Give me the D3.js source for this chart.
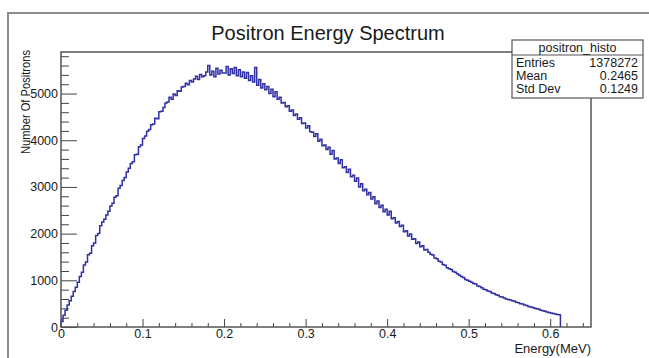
<!DOCTYPE html>
<html>
<head>
<meta charset="utf-8">
<script src="https://cdn.jsdelivr.net/npm/d3@7"></script>
<style>
  body { margin: 0; background: #fff; }
  text { font-family: "Liberation Sans", Arial, sans-serif; fill: #1a1a1a; }
</style>
</head>
<body>
<svg id="render" width="649" height="358"></svg>
<script>
// histogram: bin width 0.0025 MeV starting at 0, counts
let binWidth = 0.0025;
let counts = [
  120, 250, 360, 470, 560, 660, 760, 850, 960, 1080,
  1170, 1330, 1390, 1550, 1580, 1740, 1800, 1960, 2000, 2170,
  2250, 2310, 2400, 2480, 2590, 2650, 2780, 2810, 2970, 3030,
  3140, 3200, 3320, 3400, 3500, 3540, 3690, 3700, 3860, 3900,
  4040, 4090, 4190, 4230, 4330, 4350, 4470, 4460, 4610, 4620,
  4700, 4800, 4820, 4920, 4880, 4990, 4960, 5060, 5050, 5140,
  5150, 5220, 5190, 5280, 5250, 5310, 5370, 5300, 5410, 5360,
  5380, 5460, 5600, 5400, 5480, 5360, 5540, 5420, 5500, 5440,
  5440, 5580, 5400, 5530, 5430, 5560, 5380, 5510, 5360, 5460,
  5330, 5450, 5280, 5380, 5250, 5560, 5180, 5300, 5120, 5210,
  5080, 5150, 5000, 5090, 4930, 5040, 4880, 4920, 4800, 4810,
  4720, 4740, 4620, 4650, 4530, 4560, 4450, 4480, 4360, 4370,
  4260, 4310, 4180, 4170, 4080, 4140, 3980, 4020, 3880, 3900,
  3800, 3850, 3700, 3780, 3600, 3620, 3500, 3580, 3410, 3430,
  3310, 3380, 3220, 3250, 3120, 3190, 3000, 3070, 2920, 2950,
  2830, 2880, 2740, 2790, 2640, 2700, 2560, 2610, 2470, 2520,
  2400, 2480, 2320, 2340, 2230, 2260, 2150, 2180, 2040, 2060,
  1950, 1990, 1880, 1890, 1790, 1820, 1720, 1740, 1650, 1660,
  1600, 1560, 1540, 1480, 1460, 1410, 1390, 1340, 1320, 1270,
  1250, 1230, 1190, 1170, 1140, 1110, 1080, 1060, 1020, 1000,
  980, 960, 930, 920, 880, 870, 840, 810, 800, 770,
  760, 730, 720, 690, 680, 650, 640, 620, 600, 590,
  580, 560, 550, 530, 520, 500, 490, 470, 460, 440,
  430, 420, 400, 390, 380, 360, 350, 340, 320, 310,
  300, 290, 280, 270, 260
];

let xMajor = [0, 0.1, 0.2, 0.3, 0.4, 0.5, 0.6];
let yMajor = [0, 1000, 2000, 3000, 4000, 5000];

let statLabels = ['Entries', 'Mean', 'Std Dev'];
let statValues = ['1378272', '0.2465', '0.1249'];

let svg = d3.select('#render');

let frame = {'left': 61, 'top': 52, 'right': 591, 'bottom': 327};

let x = d3.scaleLinear().domain([0, 0.65]).range([frame.left, frame.right]);
let y = d3.scaleLinear().domain([0, 5890]).range([frame.bottom, frame.top]);

// canvas border (only top and left visible)
svg.append('path')
  .attr('d', 'M8,358V13H649')
  .style('fill', 'none')
  .style('stroke', '#8c8c8c')
  .style('stroke-width', 2);

// title
svg.append('text')
  .attr('x', 328)
  .attr('y', 40)
  .attr('text-anchor', 'middle')
  .style('font-size', '20px')
  .text('Positron Energy Spectrum');

let minorX = d3.range(0, 0.651, 0.02).filter(v => Math.abs(v * 10 - Math.round(v * 10)) > 1e-6);
let minorY = d3.range(0, 5890, 200).filter(v => v % 1000 !== 0);

let xAxis = svg.append('g')
  .attr('transform', `translate(0,${frame.bottom})`)
  .call(d3.axisBottom(x).tickValues(xMajor).tickSize(-8).tickPadding(2)
    .tickFormat(d => d === 0 ? '0' : d3.format('.1f')(d)));
svg.append('g')
  .attr('transform', `translate(0,${frame.bottom})`)
  .call(d3.axisBottom(x).tickValues(minorX).tickSize(-4).tickFormat(''));

let yAxis = svg.append('g')
  .attr('transform', `translate(${frame.left},0)`)
  .call(d3.axisLeft(y).tickValues(yMajor).tickSize(-16).tickPadding(3)
    .tickFormat(d3.format('d')));
svg.append('g')
  .attr('transform', `translate(${frame.left},0)`)
  .call(d3.axisLeft(y).tickValues(minorY).tickSize(-8).tickFormat(''));

svg.selectAll('.domain').remove();
svg.selectAll('.tick line').style('stroke', '#444');
svg.selectAll('.tick text')
  .style('font-family', '"Liberation Sans", Arial, sans-serif')
  .style('font-size', '12.5px')
  .style('fill', '#1a1a1a');

// histogram outline
let pts = [[0, 0]];
counts.forEach((c, i) => pts.push([i * binWidth, c]));
pts.push([counts.length * binWidth, counts[counts.length - 1]]);
pts.push([counts.length * binWidth, 0]);

let line = d3.line()
  .x(d => x(d[0]))
  .y(d => y(d[1]))
  .curve(d3.curveStepAfter);

svg.append('path')
  .datum(pts)
  .attr('d', line)
  .style('fill', 'none')
  .style('stroke', '#3030a4')
  .style('stroke-width', 1.5);

// frame
svg.append('rect')
  .attr('x', frame.left)
  .attr('y', frame.top)
  .attr('width', frame.right - frame.left)
  .attr('height', frame.bottom - frame.top)
  .style('fill', 'none')
  .style('stroke', '#555')
  .style('stroke-width', 1.5);

// axis titles
svg.append('text')
  .attr('x', frame.right)
  .attr('y', 353)
  .attr('text-anchor', 'end')
  .style('font-size', '13px')
  .text('Energy(MeV)');

svg.append('text')
  .attr('transform', `translate(30,${frame.top - 2}) rotate(-90)`)
  .attr('text-anchor', 'end')
  .attr('textLength', 104)
  .attr('lengthAdjust', 'spacingAndGlyphs')
  .style('font-size', '12.5px')
  .text('Number Of Positrons');

// stats box
let box = {'x': 512, 'y': 40, 'w': 131, 'h': 58, 'head': 15};
let stats = svg.append('g');
stats.append('rect')
  .attr('x', box.x).attr('y', box.y)
  .attr('width', box.w).attr('height', box.h)
  .style('fill', '#fff')
  .style('stroke', '#555')
  .style('stroke-width', 1.2);
stats.append('line')
  .attr('x1', box.x).attr('x2', box.x + box.w)
  .attr('y1', box.y + box.head).attr('y2', box.y + box.head)
  .style('stroke', '#555')
  .style('stroke-width', 1.2);
stats.append('text')
  .attr('x', box.x + box.w / 2)
  .attr('y', box.y + 12)
  .attr('text-anchor', 'middle')
  .style('font-size', '12.5px')
  .text('positron_histo');
stats.selectAll('.slab')
  .data(statLabels)
  .join('text')
  .attr('class', 'slab')
  .attr('x', box.x + 4)
  .attr('y', (d, i) => box.y + 27 + i * 13)
  .style('font-size', '12.5px')
  .text(d => d);
stats.selectAll('.sval')
  .data(statValues)
  .join('text')
  .attr('class', 'sval')
  .attr('x', box.x + box.w - 5)
  .attr('y', (d, i) => box.y + 27 + i * 13)
  .attr('text-anchor', 'end')
  .style('font-size', '12.5px')
  .text(d => d);
</script>
</body>
</html>
